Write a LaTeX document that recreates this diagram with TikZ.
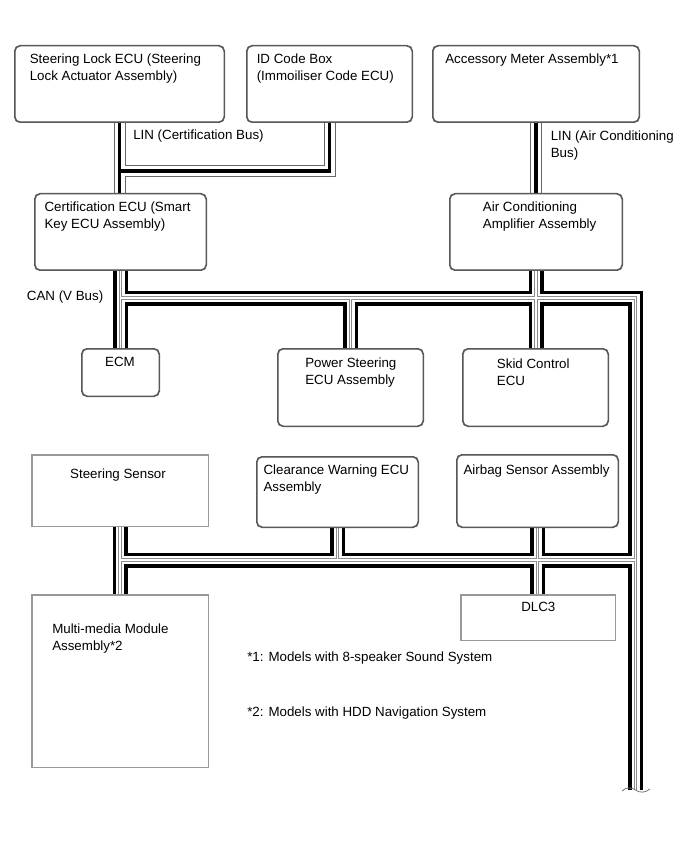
\documentclass[tikz,border=0pt]{standalone}
\usepackage{fontspec}
\setmainfont{Liberation Sans}
\usetikzlibrary{fit}
\begin{document}
\begin{tikzpicture}[x=0.75pt,y=-0.75pt,
  box/.style={draw=black!65, line width=0.75pt, rounded corners=4pt, fill=white, inner sep=0pt},
  sqbox/.style={draw=black!40, line width=0.75pt, fill=white, inner sep=0pt},
  lbl/.style={font=\fontsize{10}{12.5}\selectfont, align=left, inner sep=0pt, anchor=north west},
  canbus/.style={draw=white, line width=1.1pt,
    preaction={draw=black, line width=11.25pt},
    preaction={draw=white, line width=6pt},
    preaction={draw=black!45, line width=2.8pt}},
  linbus/.style={draw=black, line width=2.6pt,
    preaction={draw=black!60, line width=9pt},
    preaction={draw=white, line width=7.5pt}},
  breakline/.style={draw=black!55, line width=0.6pt}
]
\fill[white] (0,0) rectangle (690,855);
\useasboundingbox (0,0) rectangle (690,855);

% boxes (positions only, drawn later)
\path
  node[box, fit={(15,46) (224,122)}] (slk) {}
  node[box, fit={(247,46) (412,122)}] (idb) {}
  node[box, fit={(433,46) (639,122)}] (acc) {}
  node[box, fit={(35,194) (206,270)}] (cert) {}
  node[box, fit={(450,194) (622,270)}] (ac) {}
  node[box, fit={(82,349) (159,396)}] (ecm) {}
  node[box, fit={(278,349) (423,426)}] (ps) {}
  node[box, fit={(463,349) (608,426)}] (skid) {}
  node[sqbox, fit={(32,455) (208,526)}] (ssens) {}
  node[box, fit={(257,457) (418,527)}] (clr) {}
  node[box, fit={(457,455) (618,527)}] (air) {}
  node[sqbox, fit={(32,595) (208,767)}] (mm) {}
  node[sqbox, fit={(461,595) (615,640)}] (dlc) {};

\coordinate (linJ) at (120,171);
\coordinate (canR) at (635.5,298);
\coordinate (canE) at (635.5,790);
\coordinate (canL) at (635.5,560);

% LIN buses
\path[linbus]
  (slk.south) -- (slk.south |- cert.north)
  (slk.south |- linJ) -- (idb.south |- linJ) -- (idb.south)
  (acc.south) -- (acc.south |- ac.north);

% CAN bus
\path[canbus]
  (cert.south) -- (cert.south |- ecm.north)
  (cert.south |- canR) -- (canR) -- (canE)
  (ps.north |- canR) -- (ps.north)
  (ac.south) -- (ac.south |- skid.north)
  (ssens.south) -- (ssens.south |- mm.north)
  (ssens.south |- canL) -- (canL)
  (clr.south) -- (clr.south |- canL)
  (air.south) -- (air.south |- dlc.north);

% break mark at the open end
\draw[breakline] (622,791) .. controls (626,787) and (631,787) .. (635.5,790)
  .. controls (640,793) and (645,793) .. (650,789);

% redraw boxes on top
\foreach \n in {slk,idb,acc,cert,ac,ecm,ps,skid,clr,air}{
  \draw[box, fill=none] (\n.north west) rectangle (\n.south east);
}
\foreach \n in {ssens,mm,dlc}{
  \draw[sqbox, fill=none] (\n.north west) rectangle (\n.south east);
}

% labels
\node[lbl] (tslk) at (29.5,54) {Steering Lock ECU (Steering\\Lock Actuator Assembly)};
\node[lbl] (tid) at (256.5,54) {ID Code Box\\(Immoiliser Code ECU)};
\node[lbl] (tacc) at (445,54) {Accessory Meter Assembly*1};
\node[lbl] (tlin1) at (133,130) {LIN (Certification Bus)};
\node[lbl] (tlin2) at (550.5,130.5) {LIN (Air Conditioning\\Bus)};
\node[lbl] (tcert) at (44.3,201.5) {Certification ECU (Smart\\Key ECU Assembly)};
\node[lbl] (tac) at (482.7,201.5) {Air Conditioning\\Amplifier Assembly};
\node[lbl] (tcan) at (26.7,290.7) {CAN (V Bus)};
\node[lbl, anchor=north] (tecm) at (120,356.7) {ECM};
\node[lbl] (tps) at (305,357.7) {Power Steering\\ECU Assembly};
\node[lbl] (tskid) at (496.7,359) {Skid Control\\ECU};
\node[lbl, anchor=north] (tss) at (118,469) {Steering Sensor};
\node[lbl] (tclr) at (263.3,465) {Clearance Warning ECU\\Assembly};
\node[lbl] (tair) at (463.3,465) {Airbag Sensor Assembly};
\node[lbl, anchor=north] (tdlc) at (538.3,601.7) {DLC3};
\node[lbl] (tmm) at (52,624) {Multi-media Module\\Assembly*2};
\node[lbl] (tn1) at (247,652) {*1: Models with 8-speaker Sound System};
\node[lbl] (tn2) at (247,707) {*2: Models with HDD Navigation System};
\end{tikzpicture}
\end{document}
